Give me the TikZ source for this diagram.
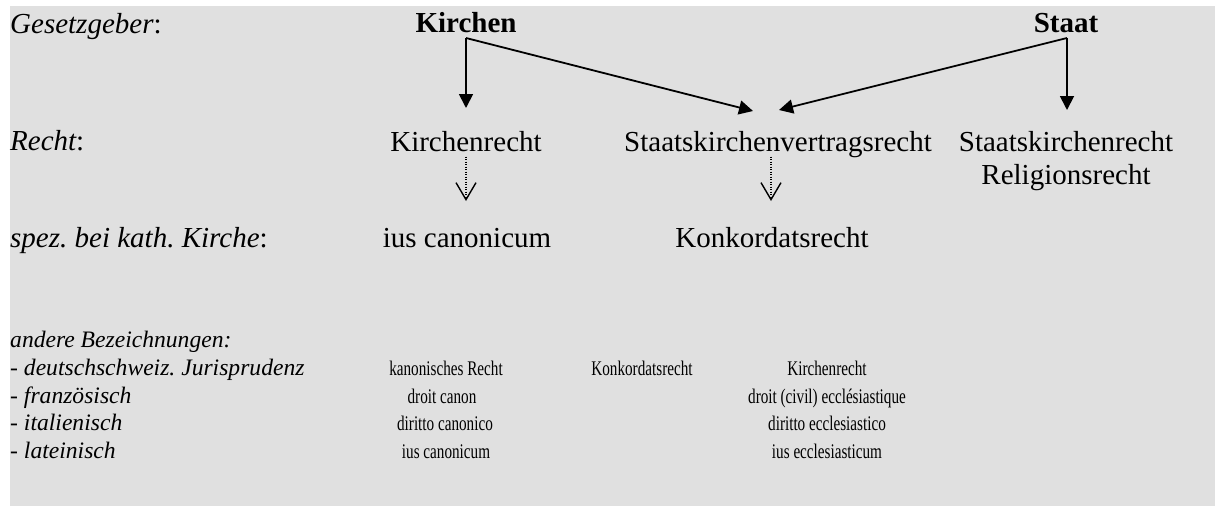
\documentclass[tikz,border=0pt]{standalone}
\usepackage{fontspec}
\usepackage{graphicx}
\setmainfont{Liberation Serif}
\usetikzlibrary{arrows.meta,calc}
\definecolor{bgc}{RGB}{224,224,224}
\newcommand{\sq}[1]{\scalebox{0.73}[1]{#1}}
\frenchspacing
\begin{document}
\begin{tikzpicture}[x=1pt,y=1pt,
 lab/.style={anchor=base west,inner sep=0pt,font=\fontsize{29}{29}\selectfont\itshape},
 big/.style={anchor=base,inner sep=0pt,font=\fontsize{29}{29}\selectfont},
 bigb/.style={anchor=base,inner sep=0pt,font=\fontsize{29}{29}\selectfont\bfseries},
 sub/.style={anchor=base west,inner sep=0pt,font=\fontsize{23.6}{23.6}\selectfont\itshape},
 sm/.style={anchor=base,inner sep=0pt,font=\fontsize{20.8}{20.8}\selectfont},
 arr/.style={line width=1.8pt,-{Triangle[width=14pt,length=14pt]}},
 dotarr/.style={line width=1.3pt,dash pattern=on 1.2pt off 1.3pt,-{Straight Barb[width=20pt,length=17pt,line width=1.4pt]}}
]
\useasboundingbox (0,0) rectangle (1215,-506);
\fill[bgc] (10,-6) rectangle (1215,-506);

% row labels
\node[lab] (lg) at (10,-33) {Gesetzgeber\upshape:};
\node[lab] (lr) at (10,-150) {Recht\upshape:};
\node[lab] (ls) at (10,-247) {spez. bei kath. Kirche\upshape:};

% top row
\node[bigb] (kir) at (466,-32) {Kirchen};
\node[bigb] (sta) at (1066,-32) {Staat};

% Recht row
\node[big] (kr) at (466,-151.5) {Kirchenrecht};
\node[big] (skv) at (778,-151.5) {Staatskirchenvertragsrecht};
\node[big] (skr) at (1066,-151.5) {Staatskirchenrecht};
\node[big] (rr) at (1066,-184) {Religionsrecht};

% spez. row
\node[big] (ic) at (467,-247) {ius canonicum};
\node[big] (kk) at (772,-247) {Konkordatsrecht};

% andere Bezeichnungen
\node[sub] (ab) at (10,-347) {andere Bezeichnungen:};
\node[sub] (d1) at (10,-375) {- deutschschweiz. Jurisprudenz};
\node[sub] (d2) at (10,-403) {- französisch};
\node[sub] (d3) at (10,-430.5) {- italienisch};
\node[sub] (d4) at (10,-458) {- lateinisch};

\node[sm] (a1) at (446,-375) {\sq{kanonisches Recht}};
\node[sm] (a2) at (442,-403) {\sq{droit canon}};
\node[sm] (a3) at (445,-430.5) {\sq{diritto canonico}};
\node[sm] (a4) at (446,-458) {\sq{ius canonicum}};

\node[sm] (b1) at (642,-375) {\sq{Konkordatsrecht}};

\node[sm] (c1) at (827,-375) {\sq{Kirchenrecht}};
\node[sm] (c2) at (827,-403) {\sq{droit (civil) ecclésiastique}};
\node[sm] (c3) at (827,-430.5) {\sq{diritto ecclesiastico}};
\node[sm] (c4) at (827,-458) {\sq{ius ecclesiasticum}};

% connectors
\coordinate (kirS) at ($(kir.base)+(0,-6)$);
\coordinate (staS) at ($(sta.base)+(1,-6)$);
\coordinate (mL) at (753,-111);
\coordinate (mR) at (779,-110);
\draw[arr] (kirS) -- ($(kr.base)+(0,43.5)$);
\draw[arr] (kirS) -- (mL);
\draw[arr] (staS) -- (mR);
\draw[arr] (staS) -- ($(skr.base)+(1,41.5)$);

\draw[dotarr] ($(kr.base)+(0,-5)$) -- ($(ic.base)+(-1,46)$);
\draw[dotarr] ($(kk.base |- skv.base)+(-1,-5)$) -- ($(kk.base)+(-1,46)$);
\end{tikzpicture}
\end{document}
